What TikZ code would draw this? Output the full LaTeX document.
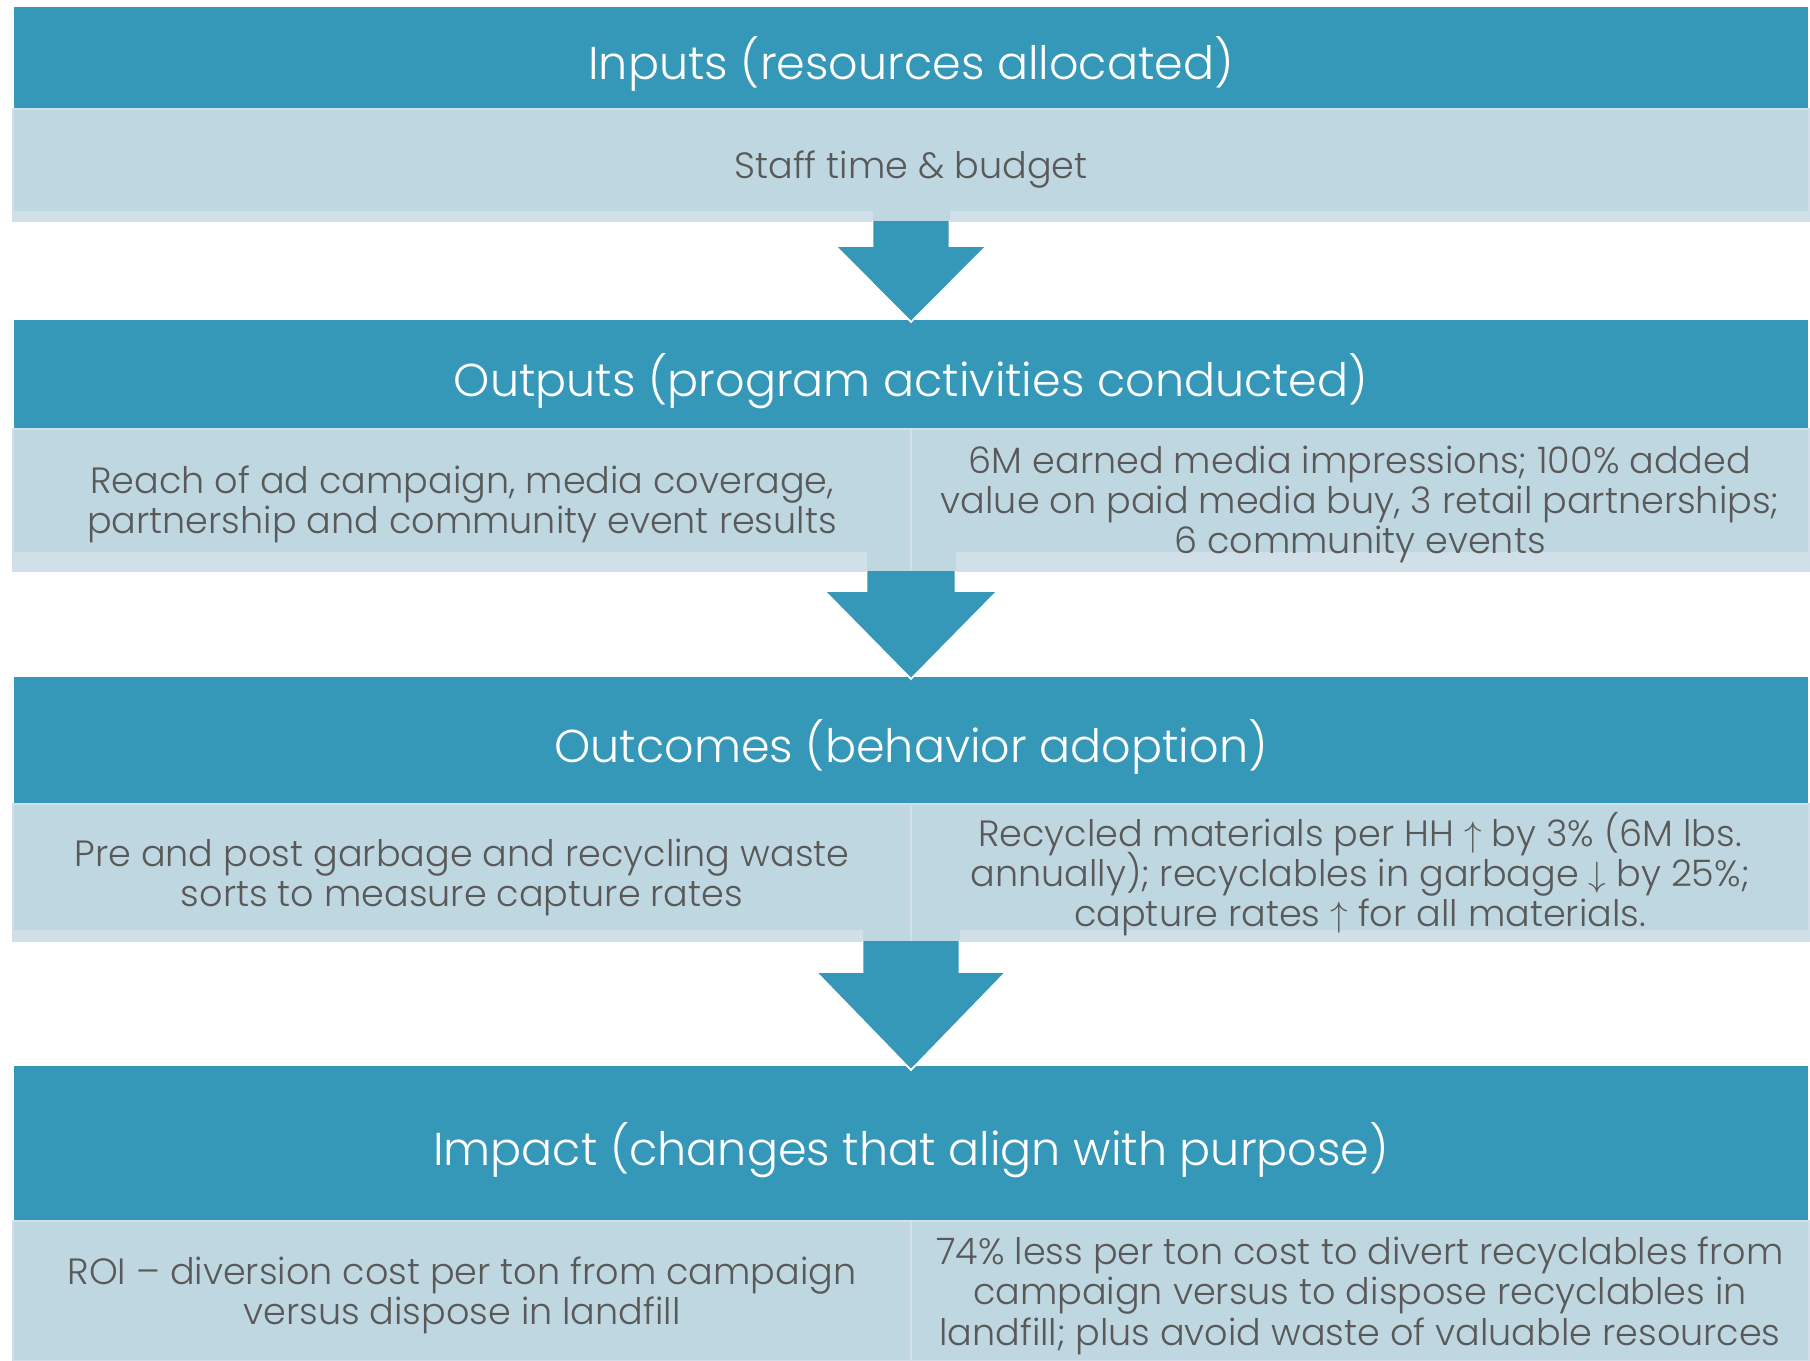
\documentclass[tikz,border=0pt]{standalone}
\usepackage{fontspec}
\setmainfont{Poppins Light}
\usepackage{tikz}
\usetikzlibrary{calc}
\definecolor{headteal}{RGB}{54,152,184}
\definecolor{boxblue}{RGB}{191,215,224}
\definecolor{stripblue}{RGB}{209,224,232}
\definecolor{textgray}{RGB}{89,89,89}
\newdimen\unitpx \unitpx=0.1mm
\newcommand{\up}{\smash{$\uparrow$}}
\newcommand{\down}{\smash{$\downarrow$}}
\newcommand{\bodyfont}{\fontsize{10.4}{11.45}\selectfont\setlength{\lineskiplimit}{-20pt}}
\tikzset{striph/.store in=\striph, striph=0pt}
\tikzstyle{headbox}=[anchor=north west, fill=headteal, text=white, inner sep=0pt, outer sep=0pt, text depth=0pt, minimum width=1794\unitpx, font=\fontsize{13.1}{15}\selectfont]
\tikzstyle{subbox}=[anchor=north west, fill=boxblue, draw=stripblue, line width=0.4pt, text=textgray, inner sep=0pt, outer sep=0pt, text depth=0pt, align=center, font=\bodyfont,
  path picture={\fill[stripblue] (path picture bounding box.south west) rectangle ([yshift=\striph]path picture bounding box.south east);}]
\tikzstyle{halfbox}=[subbox, minimum width=898\unitpx]
\tikzstyle{flowarrow}=[fill=headteal, draw=white, line width=0.5pt]

\begin{document}
\begin{tikzpicture}[x=0.1mm, y=-0.1mm]
    \path[use as bounding box, fill=white] (0,0) rectangle (1810,1361);
    % First we draw the four header bars
    \node[headbox, minimum height=102\unitpx] (head1) at (14,7) {Inputs (resources allocated)};
    \node[headbox, minimum height=109\unitpx] (head2) at (14,320) {Outputs (program activities conducted)};
    \node[headbox, minimum height=127\unitpx] (head3) at (14,677) {Outcomes (behavior adoption)};
    \node[headbox, minimum height=155\unitpx] (head4) at (14,1066) {Impact (changes that align with purpose)};

    % boxes under each header
    \node[subbox, minimum width=1796\unitpx, minimum height=112\unitpx, striph=1mm] (in1) at (13,109) {Staff time \& budget};

    \node[halfbox, minimum height=142\unitpx, striph=1.9mm] (out1) at (13,429) {Reach of ad campaign, media coverage,\\ partnership and community event results};
    \node[halfbox, minimum height=142\unitpx, striph=1.9mm] (out2) at (911,429) {6M earned media impressions; 100\% added\\ value on paid media buy, 3 retail partnerships;\\ 6 community events};

    \node[halfbox, minimum height=137\unitpx, striph=1.1mm] (oc1) at (13,804) {Pre and post garbage and recycling waste\\ sorts to measure capture rates};
    \node[halfbox, minimum height=137\unitpx, striph=1.1mm] (oc2) at (911,804) {Recycled materials per HH \up\ by 3\% \smash{(}6M lbs.\\ annually); recyclables in garbage \down\ by 25\%;\\ capture rates \up\ for all materials.};

    \node[halfbox, minimum height=140\unitpx] (im1) at (13,1221) {ROI – diversion cost per ton from campaign\\ versus dispose in landfill};
    \node[halfbox, minimum height=140\unitpx] (im2) at (911,1221) {74\% less per ton cost to divert recyclables from\\ campaign versus to dispose recyclables in\\ landfill; plus avoid waste of valuable resources};

    % Connect the stages with block arrows
    \foreach \from/\to/\sh/\sw/\hw/\hy/\tp in {in1/head2/10/38.5/75.5/25/2, out1/head3/19/44.5/86.5/20/2, oc1/head4/11/48.5/95/31/4}{
        \coordinate (top) at (\from.south -| \to.north);
        \fill[boxblue] ($(top)+(-\sw,-\sh)$) rectangle ($(top)+(\sw,0)$);
        \filldraw[flowarrow] ($(top)+(-\sw,0)$) -- ($(top)+(-\sw,\hy)$) -- ($(top)+(-\hw,\hy)$) -- ($(\to.north)+(0,\tp)$) -- ($(top)+(\hw,\hy)$) -- ($(top)+(\sw,\hy)$) -- ($(top)+(\sw,0)$);
    }
    \foreach \half in {out1, oc1, im1}
        \draw[stripblue, line width=0.6pt] (\half.north east) -- (\half.south east);
\end{tikzpicture}
\end{document}
